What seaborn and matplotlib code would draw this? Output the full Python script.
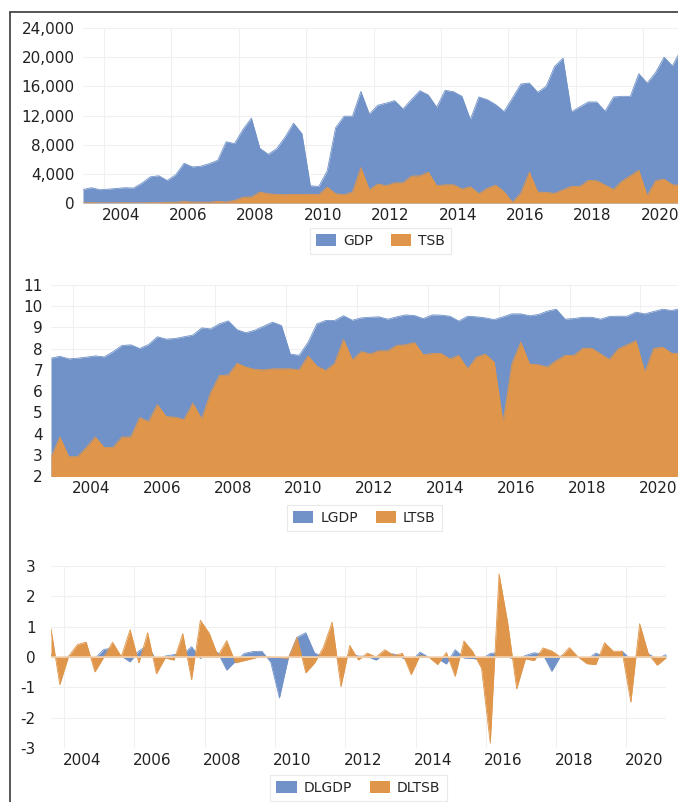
# Quarterly GDP / TSB area charts: levels, logs and log-differences

import numpy as np
import pandas as pd
import matplotlib
matplotlib.use("Agg")
import matplotlib.pyplot as plt
from matplotlib.lines import Line2D
import seaborn as sns

# --------------------------
# Data
quarters = pd.period_range("2003Q2", "2021Q1", freq="Q")

gdp = [1850, 2100, 1820, 1900, 2000, 2100, 2050, 2730, 3590, 3730, 3090, 3860,
       5450, 4950, 5050, 5400, 5860, 8400, 8140, 10100, 11640, 7500, 6680, 7450,
       9050, 10950, 9500, 2360, 2270, 4400, 10320, 11900, 11900, 15300, 12200, 13400,
       13700, 14040, 12900, 14180, 15400, 14820, 13140, 15450, 15270, 14630, 11450, 14540,
       14180, 13500, 12540, 14400, 16320, 16450, 15180, 16000, 18730, 19860, 12500, 13180,
       13860, 13860, 12590, 14540, 14630, 14630, 17730, 16450, 17900, 20000, 18800, 21000]
tsb = [18, 47, 18, 18, 28, 47, 28, 28, 47, 47, 115, 95,
       210, 120, 118, 105, 230, 150, 350, 800, 830, 1500, 1270, 1180,
       1140, 1180, 1180, 1180, 1140, 2180, 1270, 1140, 1500, 4860, 1820, 2600,
       2360, 2770, 2770, 3680, 3730, 4230, 2360, 2500, 2500, 1910, 2230, 1270,
       2000, 2450, 1550, 90, 1360, 4230, 1500, 1450, 1320, 1820, 2270, 2270,
       3090, 3050, 2450, 1860, 3000, 3730, 4500, 1000, 3050, 3270, 2500, 2400]

lgdp = [7.55, 7.64, 7.52, 7.55, 7.60, 7.66, 7.61, 7.86, 8.15, 8.18, 8.01, 8.19,
        8.56, 8.45, 8.48, 8.56, 8.64, 8.98, 8.93, 9.17, 9.31, 8.89, 8.75, 8.87,
        9.06, 9.25, 9.09, 7.74, 7.69, 8.30, 9.17, 9.33, 9.33, 9.55, 9.34, 9.45,
        9.48, 9.50, 9.39, 9.50, 9.59, 9.56, 9.42, 9.59, 9.58, 9.53, 9.30, 9.53,
        9.50, 9.45, 9.37, 9.50, 9.64, 9.64, 9.55, 9.61, 9.77, 9.86, 9.39, 9.42,
        9.48, 9.48, 9.39, 9.52, 9.53, 9.53, 9.72, 9.64, 9.75, 9.86, 9.80, 9.88]
ltsb = [2.88, 3.84, 2.91, 2.91, 3.35, 3.84, 3.34, 3.34, 3.84, 3.84, 4.75, 4.56,
        5.36, 4.80, 4.77, 4.66, 5.43, 4.69, 5.92, 6.73, 6.76, 7.31, 7.13, 7.02,
        7.00, 7.05, 7.05, 7.05, 7.00, 7.66, 7.17, 6.97, 7.31, 8.43, 7.47, 7.86,
        7.75, 7.90, 7.90, 8.15, 8.18, 8.29, 7.71, 7.77, 7.77, 7.52, 7.68, 7.05,
        7.60, 7.74, 7.36, 4.53, 7.28, 8.31, 7.27, 7.24, 7.13, 7.44, 7.68, 7.68,
        8.02, 8.02, 7.75, 7.49, 7.99, 8.18, 8.37, 6.89, 8.01, 8.07, 7.79, 7.75]

# differences start one quarter later (2003Q3)
dlgdp = [0.09, -0.12, 0.03, 0.05, 0.06, -0.05, 0.25, 0.29, 0.03, -0.16, 0.20, 0.37,
         -0.11, 0.03, 0.08, 0.08, 0.34, -0.05, 0.24, 0.14, -0.43, -0.14, 0.12, 0.18,
         0.19, -0.16, -1.35, -0.05, 0.65, 0.80, 0.13, 0.00, 0.22, -0.21, 0.11, 0.03,
         0.02, -0.10, 0.11, 0.10, -0.03, -0.14, 0.16, -0.01, -0.05, -0.23, 0.24, -0.03,
         -0.05, -0.08, 0.12, 0.14, 0.00, -0.09, 0.05, 0.14, 0.09, -0.47, 0.03, 0.06,
         0.00, -0.09, 0.13, 0.01, 0.00, 0.19, -0.08, 0.11, 0.10, -0.06, 0.08]
dltsb = [0.93, -0.91, 0.02, 0.41, 0.49, -0.49, -0.01, 0.49, 0.01, 0.90, -0.20, 0.80,
         -0.55, -0.03, -0.10, 0.77, -0.75, 1.21, 0.79, 0.04, 0.54, -0.19, -0.12, -0.05,
         0.03, 0.00, -0.02, -0.04, 0.65, -0.52, -0.20, 0.32, 1.15, -0.98, 0.38, -0.10,
         0.13, 0.00, 0.24, 0.05, 0.12, -0.58, 0.05, 0.00, -0.25, 0.15, -0.64, 0.53,
         0.18, -0.37, -2.84, 2.74, 1.10, -1.05, -0.06, -0.12, 0.30, 0.20, 0.00, 0.31,
         0.00, -0.22, -0.25, 0.47, 0.19, 0.19, -1.49, 1.10, 0.10, -0.27, -0.03]

year_ticks = list(range(2004, 2021, 2))

BLUE = "#7092c8"
ORANGE = "#e0964a"

sns.set_theme(style="white")
plt.rcParams["font.family"] = ["DejaVu Sans"]

# mid-quarter positions on a decimal-year axis
xq = np.asarray(quarters.year + (quarters.quarter - 0.5) / 4, dtype=float)

levels = pd.DataFrame({"x": xq, "GDP": gdp, "TSB": tsb})
logs = pd.DataFrame({"x": xq, "LGDP": lgdp, "LTSB": ltsb})
diffs = pd.DataFrame({"x": xq[1:], "DLGDP": dlgdp, "DLTSB": dltsb})

W, H = 678, 802
fig = plt.figure(figsize=(W / 100, H / 100), dpi=100)


def px_axes(left, right, top, bottom):
    return fig.add_axes([left / W, 1 - bottom / H, (right - left) / W, (bottom - top) / H])


def area_panel(ax, df, cols, xlim, ylim, yticks, ylabels, ypad, legend_y):
    for col, color in zip(cols, [BLUE, ORANGE]):
        ax.fill_between(df["x"], 0, df[col], color=color, lw=0, label=col, zorder=2)
        sns.lineplot(data=df, x="x", y=col, ax=ax, color=color, lw=0.6,
                     legend=False, zorder=2)
    ax.set_xlim(*xlim)
    ax.set_ylim(*ylim)
    ax.set_xlabel("")
    ax.set_ylabel("")
    # gridlines on year boundaries, labels centred in the year
    ax.set_xticks(year_ticks, labels=[""] * len(year_ticks))
    ax.set_xticks([y + 0.5 for y in year_ticks], labels=[str(y) for y in year_ticks], minor=True)
    ax.set_yticks(yticks, labels=ylabels)
    ax.tick_params(axis="x", which="both", length=0, pad=3.5, labelsize=11, labelcolor="#222222")
    ax.tick_params(axis="y", length=0, pad=ypad, labelsize=11, labelcolor="#222222")
    ax.grid(True, which="major", color="#f0f0f0", lw=0.8)
    ax.set_axisbelow(True)
    sns.despine(ax=ax, left=True, bottom=True)
    leg = ax.legend(loc="center", bbox_to_anchor=(0.5, legend_y), ncol=2, fontsize=10,
                    frameon=True, fancybox=False, edgecolor="#e4e4e4", handlelength=1.45,
                    handleheight=0.9, handletextpad=0.5, columnspacing=1.3, borderpad=0.45)
    leg.get_frame().set_linewidth(0.8)


# --------------------------
# Panel 1: levels
ax1 = px_axes(83, 678, 28, 203)
area_panel(ax1, levels, ["GDP", "TSB"], (2003.375, 2021.04), (0, 24000),
           list(range(0, 24001, 4000)), [f"{v:,}" for v in range(0, 24001, 4000)],
           6.0, -0.217)

# Panel 2: logs
ax2 = px_axes(51, 678, 285, 476)
area_panel(ax2, logs, ["LGDP", "LTSB"], (2003.375, 2021.06), (2, 11),
           list(range(2, 12)), [str(v) for v in range(2, 12)], 5.8, -0.22)

# Panel 3: log differences
ax3 = px_axes(51, 666, 566, 748)
area_panel(ax3, diffs, ["DLGDP", "DLTSB"], (2003.625, 2021.125), (-3, 3),
           list(range(-3, 4)), [str(v) for v in range(-3, 4)], 11.0, -0.22)
ax3.axhline(0, color="#f5d3ae", lw=1.2, zorder=4)

# outer frame of the screenshot (left and top edges)
fig.add_artist(Line2D([10 / W, 10 / W], [0, 1 - 12 / H], color="#3a3a3a", lw=1.2))
fig.add_artist(Line2D([10 / W, 1], [1 - 12 / H, 1 - 12 / H], color="#3a3a3a", lw=1.2))

fig.savefig("out.png", dpi=100)
